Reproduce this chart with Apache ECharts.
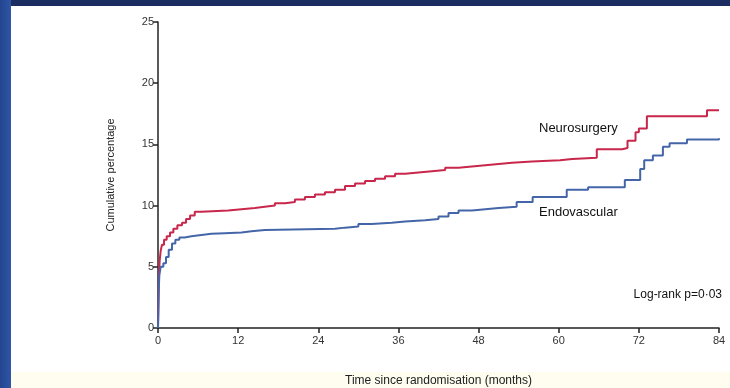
<!DOCTYPE html>
<html><head><meta charset="utf-8">
<script src="https://cdn.jsdelivr.net/npm/echarts@6/dist/echarts.min.js"></script>
<style>
html,body{margin:0;padding:0;width:730px;height:388px;overflow:hidden;background:#fff;}
#frameTop{position:absolute;left:0;top:0;width:730px;height:6px;background:#1c2d62;}
#frameLeft{position:absolute;left:0;top:0;width:11px;height:388px;background:linear-gradient(90deg,#24458f,#2e55a6);}
#frameBottom{position:absolute;left:11px;top:372px;width:719px;height:16px;background:#fffdf0;}
#chart{position:absolute;left:0;top:0;width:730px;height:388px;}
</style></head>
<body>
<div id="frameBottom"></div>
<div id="frameTop"></div>
<div id="frameLeft"></div>
<div id="chart"></div>
<script>
// Cumulative percentage by months since randomisation
const neurosurgery = [[0,0],[0.05,1.5],[0.1,3],[0.15,4.5],[0.25,5.5],[0.4,6.3],[0.6,6.8],[0.9,7.2],[1.3,7.5],[1.8,7.8],[2.3,8.1],[2.9,8.4],[3.6,8.6],[4.2,8.9],[4.8,9.2],[5.5,9.5],[6.5,9.6],[10.5,9.7],[12.5,9.8],[14.5,9.9],[16,10.0],[17.5,10.2],[19,10.3],[20.5,10.5],[22,10.7],[23.5,10.9],[25,11.1],[26.5,11.3],[28,11.6],[29.5,11.8],[31,12.0],[32.5,12.2],[34,12.4],[35.5,12.6],[37,12.7],[39,12.8],[41,12.9],[43,13.1],[45,13.2],[47,13.3],[49,13.4],[51,13.5],[53,13.6],[56,13.7],[60.2,13.8],[62,13.9],[65.7,14.6],[69.5,14.7],[70.3,15.3],[71.5,16.0],[72,16.3],[73.2,17.3],[82.2,17.8],[84,17.8]];
const endovascular = [[0,0],[0.05,1.5],[0.1,3],[0.2,4.3],[0.4,5.0],[0.8,5.3],[1.2,5.8],[1.6,6.4],[2.1,6.9],[2.6,7.2],[3.2,7.4],[4,7.5],[5,7.6],[6.5,7.7],[8,7.75],[10,7.8],[12.5,7.9],[14,8.0],[16,8.1],[26.5,8.2],[28,8.3],[30,8.5],[32,8.6],[35,8.7],[37,8.8],[40,8.9],[42,9.1],[43.5,9.4],[45,9.6],[47,9.7],[49,9.8],[51,9.9],[53.7,10.3],[56.1,10.7],[61.2,11.3],[64.4,11.5],[69.9,12.1],[72.2,13.0],[72.8,13.7],[74.1,14.1],[75.6,14.8],[76.6,15.1],[79.2,15.4],[84,15.5]];
const seriesNames = ['Neurosurgery','Endovascular'];
const xTicks = [0,12,24,36,48,60,72,84];
const yTicks = [0,5,10,15,20,25];
const xTitle = 'Time since randomisation (months)';
const yTitle = 'Cumulative percentage';
const annotation = 'Log-rank p=0·03';

const font = "'Liberation Sans Narrow','Liberation Sans',sans-serif";
const chart = echarts.init(document.getElementById('chart'));
chart.setOption({
  animation:false,
  grid:{left:158,right:11,top:22,bottom:60,outerBoundsMode:'none',containLabel:false},
  xAxis:{type:'value',min:xTicks[0],max:xTicks[xTicks.length-1],interval:12,
    name:xTitle,nameLocation:'middle',nameGap:47,
    nameTextStyle:{fontFamily:font,fontSize:12,color:'#222'},
    axisLine:{lineStyle:{color:'#222',width:1.5}},
    axisTick:{show:true,length:5,lineStyle:{color:'#222',width:1.5}},
    axisLabel:{fontFamily:font,fontSize:11,color:'#333',margin:7},
    splitLine:{show:false}},
  yAxis:{type:'value',min:yTicks[0],max:yTicks[yTicks.length-1],interval:5,
    name:yTitle,nameLocation:'middle',nameGap:42,
    nameTextStyle:{fontFamily:font,fontSize:11,color:'#222'},
    axisLine:{show:true,lineStyle:{color:'#222',width:1.5}},
    axisTick:{show:true,length:5,lineStyle:{color:'#222',width:1.5}},
    axisLabel:{fontFamily:font,fontSize:11,color:'#333',margin:4},
    splitLine:{show:false}},
  series:[
    {name:seriesNames[0],type:'line',step:'end',data:neurosurgery,showSymbol:false,
      lineStyle:{color:'#c8264b',width:2},itemStyle:{color:'#c8264b'}},
    {name:seriesNames[1],type:'line',step:'end',data:endovascular,showSymbol:false,
      lineStyle:{color:'#4466a8',width:2},itemStyle:{color:'#4466a8'}}
  ],
  graphic:[
    {type:'text',left:539,top:122,style:{text:seriesNames[0],font:"13px "+font,fill:'#111'}},
    {type:'text',left:539,top:206,style:{text:seriesNames[1],font:"13px "+font,fill:'#111'}},
    {type:'text',right:8,top:289,style:{text:annotation,font:"12px "+font,fill:'#111'}}
  ]
});
</script>
</body></html>
